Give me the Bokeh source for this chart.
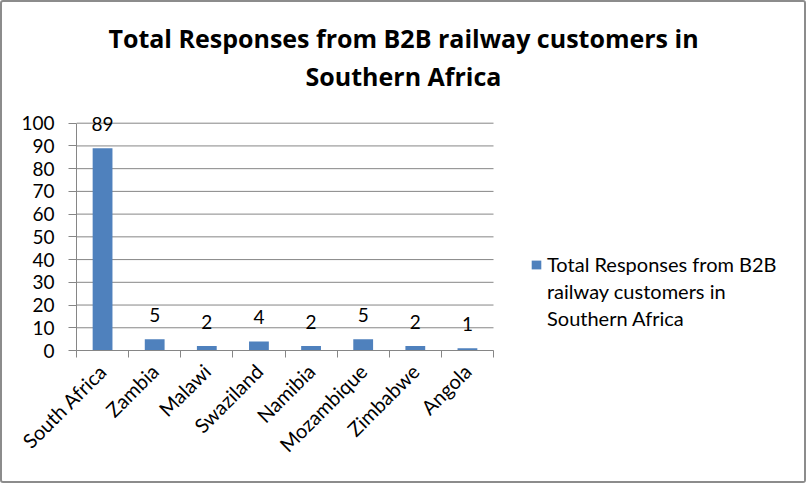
from bokeh.plotting import figure
from bokeh.layouts import column
from bokeh.models import (ColumnDataSource, FixedTicker, Range1d, Label, Legend, LegendItem)
from bokeh.embed import file_html
from bokeh.resources import INLINE
from bokeh.core.properties import value

countries = ["South Africa", "Zambia", "Malawi", "Swaziland", "Namibia", "Mozambique", "Zimbabwe", "Angola"]
responses = [89, 5, 2, 4, 2, 5, 2, 1]
series_lines = ["Total Responses from B2B", "railway customers in", "Southern Africa"]
title_text = "Total Responses from B2B railway customers in\nSouthern Africa"
y_ticks = list(range(0, 101, 10))
y_max = 100

FONT = "Lato"
TITLE_FONT = "Open Sans"
BAR = "#4F81BD"
GRID = "#868686"

n = len(countries)
xs = [i + 0.5 for i in range(n)]
src = ColumnDataSource(dict(x=xs, y=responses, lbl=[str(v) for v in responses]))

# layout (pixels, inside a 2px border -> 806 x 483 page)
W, H = 802, 479
FL, FB = 74, 348             # frame left / bottom
PLOT_R, PLOT_T = 491, 120.7  # where x = n and y = 100 fall
px_x = (PLOT_R - FL) / n
px_y = (FB - PLOT_T) / y_max

p = figure(width=W, height=H, output_backend="svg", toolbar_location=None, title=None,
           x_range=Range1d(0, (W - FL) / px_x), y_range=Range1d(0, FB / px_y),
           min_border_left=FL, min_border_right=0, min_border_top=0, min_border_bottom=H - FB)
p.outline_line_color = None
p.background_fill_color = "white"
p.border_fill_color = "white"

# horizontal gridlines over the plotted area only
p.segment(x0=[0] * len(y_ticks), x1=[n] * len(y_ticks), y0=y_ticks, y1=y_ticks,
          line_color=GRID, line_width=1)
bars = p.vbar(x="x", top="y", width=0.38, source=src, fill_color=BAR, line_color=None)
p.text(x="x", y="y", text="lbl", source=src, text_align="center", text_baseline="bottom",
       y_offset=-17, text_font=value(FONT), text_font_size="19px", text_color="black")
blank = p.vbar(x=[], top=[], width=0.38, fill_alpha=0, line_alpha=0)

# x axis
p.xaxis.bounds = (0, n)
p.xaxis.ticker = FixedTicker(ticks=xs, minor_ticks=list(range(n + 1)))
p.xaxis.major_label_overrides = {x: c for x, c in zip(xs, countries)}
p.xaxis.major_tick_line_color = None
p.xaxis.minor_tick_line_color = GRID
p.xaxis.minor_tick_out = 7
p.xaxis.minor_tick_in = 0
p.xaxis.axis_line_color = GRID
p.xaxis.major_label_orientation = 0.785398
p.xaxis.major_label_text_font = FONT
p.xaxis.major_label_text_font_size = "20px"
p.xaxis.major_label_text_color = "black"
p.xaxis.major_label_standoff = 10
p.xgrid.grid_line_color = None

# y axis
p.yaxis.bounds = (0, y_max)
p.yaxis.ticker = FixedTicker(ticks=y_ticks, minor_ticks=[])
p.yaxis.axis_line_color = GRID
p.yaxis.major_tick_line_color = GRID
p.yaxis.major_tick_out = 8
p.yaxis.major_tick_in = 0
p.yaxis.minor_tick_line_color = None
p.yaxis.major_label_text_font = FONT
p.yaxis.major_label_text_font_size = "19px"
p.yaxis.major_label_text_color = "black"
p.yaxis.major_label_standoff = 14
p.ygrid.grid_line_color = None

# title (screen units measured from the frame's bottom-left corner)
p.add_layout(Label(x=W / 2 - FL, y=FB - 54.5, x_units="screen", y_units="screen",
                   text=title_text, text_align="center", text_baseline="middle",
                   text_font=TITLE_FONT, text_font_style="bold", text_font_size="25px",
                   text_color="black", text_line_height=1.09))

# legend: square beside the first line, continuation lines without a marker
items = [LegendItem(label=series_lines[0], renderers=[bars])] + \
        [LegendItem(label=t, renderers=[blank]) for t in series_lines[1:]]
leg = Legend(items=items, location=(528 - FL, FB - 329.5), orientation="vertical",
             border_line_color=None, background_fill_alpha=0, padding=0, margin=0,
             spacing=0, label_height=27, glyph_height=11, glyph_width=12, label_standoff=5,
             label_text_font=FONT, label_text_font_size="20px", label_text_color="black")
p.add_layout(leg, "center")

layout = column(p, styles={"border": "2px solid #8c8c8c", "border-radius": "3px"})
open("out.html", "w").write(file_html(layout, INLINE))
